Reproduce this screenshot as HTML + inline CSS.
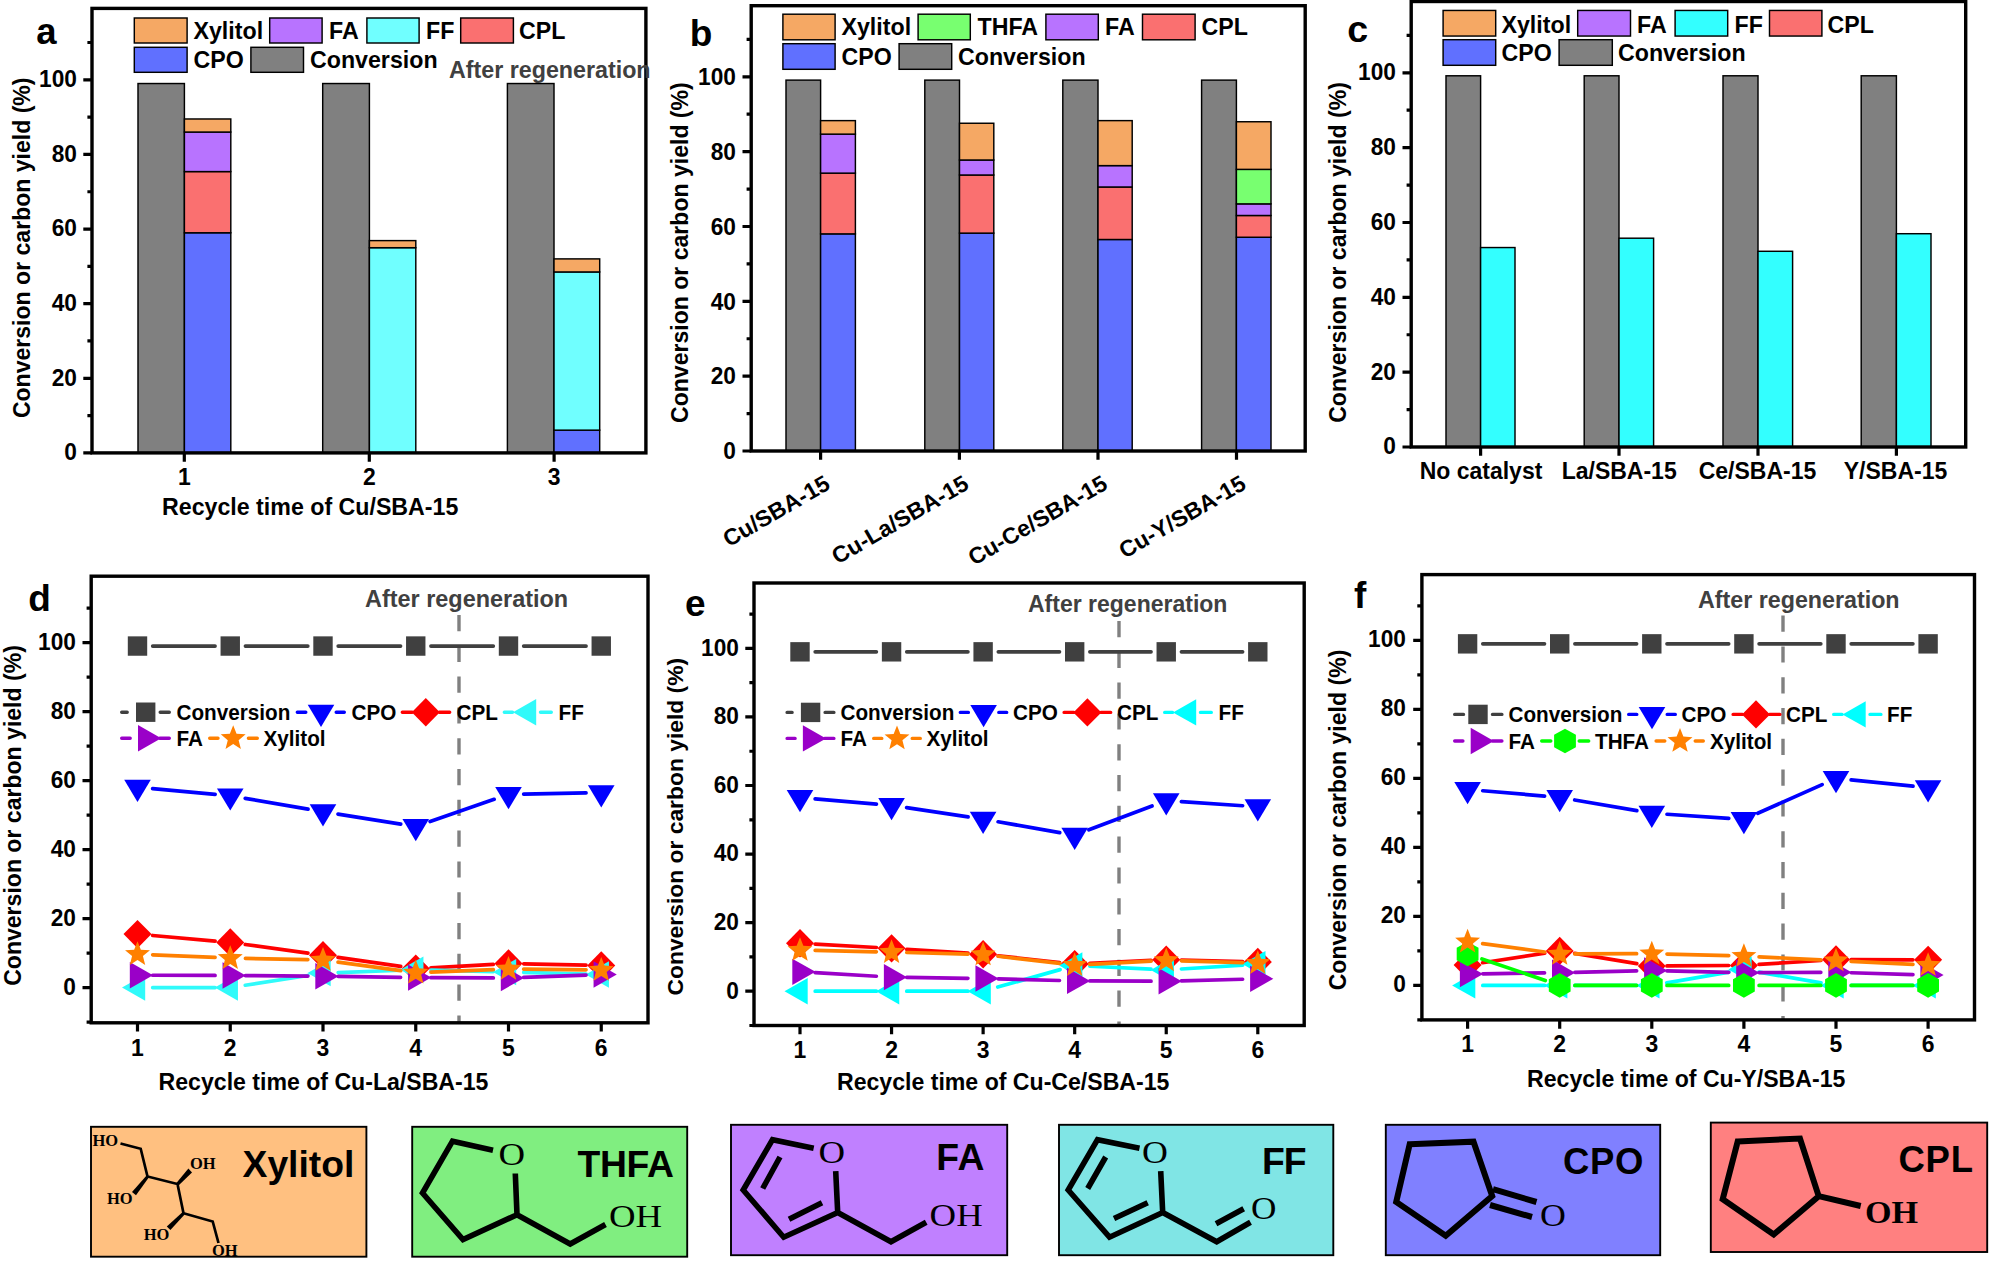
<!DOCTYPE html>
<html lang="en"><head><meta charset="utf-8"><title>Figure</title>
<style>
html,body{margin:0;padding:0;background:#fff;}
body{width:2000px;height:1262px;overflow:hidden;}
svg{display:block;}
svg text{font-family:'Liberation Sans', Arial, Helvetica, sans-serif;font-weight:bold;fill:#000;}
</style></head><body>
<svg width="2000" height="1262" viewBox="0 0 2000 1262">
<rect width="2000" height="1262" fill="#fff"/>
<rect x="138" y="83.53" width="46.4" height="369.37" fill="#808080" stroke="#000" stroke-width="1.45"/>
<rect x="184.4" y="232.77" width="46.4" height="220.13" fill="#6070FF" stroke="#000" stroke-width="1.45"/>
<rect x="184.4" y="171.58" width="46.4" height="61.19" fill="#FA7070" stroke="#000" stroke-width="1.45"/>
<rect x="184.4" y="132.03" width="46.4" height="39.55" fill="#B873FF" stroke="#000" stroke-width="1.45"/>
<rect x="184.4" y="118.98" width="46.4" height="13.06" fill="#F5A864" stroke="#000" stroke-width="1.45"/>
<rect x="322.7" y="83.53" width="46.7" height="369.37" fill="#808080" stroke="#000" stroke-width="1.45"/>
<rect x="369.4" y="247.69" width="46.4" height="205.2" fill="#70FFFF" stroke="#000" stroke-width="1.45"/>
<rect x="369.4" y="240.61" width="46.4" height="7.09" fill="#F5A864" stroke="#000" stroke-width="1.45"/>
<rect x="507.4" y="83.53" width="46.6" height="369.37" fill="#808080" stroke="#000" stroke-width="1.45"/>
<rect x="554" y="430.14" width="45.7" height="22.76" fill="#6070FF" stroke="#000" stroke-width="1.45"/>
<rect x="554" y="271.95" width="45.7" height="158.19" fill="#70FFFF" stroke="#000" stroke-width="1.45"/>
<rect x="554" y="258.89" width="45.7" height="13.06" fill="#F5A864" stroke="#000" stroke-width="1.45"/>
<rect x="134.3" y="18" width="52.8" height="25" fill="#F5A864" stroke="#000" stroke-width="1.45"/>
<text x="193.5" y="39.3" font-size="23.2">Xylitol</text>
<rect x="269.7" y="18" width="52.4" height="25" fill="#B873FF" stroke="#000" stroke-width="1.45"/>
<text x="329" y="39.3" font-size="23.2">FA</text>
<rect x="366.9" y="18" width="52.2" height="25" fill="#70FFFF" stroke="#000" stroke-width="1.45"/>
<text x="426" y="39.3" font-size="23.2">FF</text>
<rect x="460.7" y="18" width="52.7" height="25" fill="#FA7070" stroke="#000" stroke-width="1.45"/>
<text x="519" y="39.3" font-size="23.2">CPL</text>
<rect x="134.3" y="47.3" width="52.8" height="25" fill="#6070FF" stroke="#000" stroke-width="1.45"/>
<text x="193.5" y="68.2" font-size="23.2">CPO</text>
<rect x="250.9" y="47.3" width="52.6" height="25" fill="#808080" stroke="#000" stroke-width="1.45"/>
<text x="310" y="68.2" font-size="23.2">Conversion</text>
<rect x="92" y="8.4" width="553.9" height="444.5" fill="none" stroke="#000" stroke-width="3.4"/>
<text transform="translate(77 460.3) scale(1.01 1.1)" font-size="22.5" text-anchor="end">0</text>
<text transform="translate(77 385.68) scale(1.01 1.1)" font-size="22.5" text-anchor="end">20</text>
<text transform="translate(77 311.06) scale(1.01 1.1)" font-size="22.5" text-anchor="end">40</text>
<text transform="translate(77 236.44) scale(1.01 1.1)" font-size="22.5" text-anchor="end">60</text>
<text transform="translate(77 161.82) scale(1.01 1.1)" font-size="22.5" text-anchor="end">80</text>
<text transform="translate(77 87.2) scale(1.01 1.1)" font-size="22.5" text-anchor="end">100</text>
<path d="M83.3 452.9H92M83.3 378.28H92M83.3 303.66H92M83.3 229.04H92M83.3 154.42H92M83.3 79.8H92M87.4 415.59H92M87.4 340.97H92M87.4 266.35H92M87.4 191.73H92M87.4 117.11H92M87.4 42.49H92" stroke="#000" stroke-width="3.2" fill="none"/>
<path d="M184.3 452.9V461.7M369.3 452.9V461.7M554.1 452.9V461.7" stroke="#000" stroke-width="3.2" fill="none"/>
<text x="30.2" y="247.8" font-size="23.05" text-anchor="middle" transform="rotate(-90 30.2 247.8)">Conversion or carbon yield (%)</text>
<text x="36.2" y="44.4" font-size="36.5">a</text>
<text transform="translate(184.3 485.3) scale(1.02 1.1)" font-size="22.5" text-anchor="middle">1</text>
<text transform="translate(369.3 485.3) scale(1.02 1.1)" font-size="22.5" text-anchor="middle">2</text>
<text transform="translate(554.1 485.3) scale(1.02 1.1)" font-size="22.5" text-anchor="middle">3</text>
<text x="310.2" y="514.5" font-size="23.2" text-anchor="middle">Recycle time of Cu/SBA-15</text>
<text x="449" y="78" font-size="23.25" style="fill:#404040;">After regeneration</text>
<rect x="786" y="80.12" width="34.6" height="370.88" fill="#808080" stroke="#000" stroke-width="1.45"/>
<rect x="820.6" y="233.87" width="34.8" height="217.13" fill="#6070FF" stroke="#000" stroke-width="1.45"/>
<rect x="820.6" y="173.12" width="34.8" height="60.75" fill="#FA7070" stroke="#000" stroke-width="1.45"/>
<rect x="820.6" y="134.12" width="34.8" height="39" fill="#B873FF" stroke="#000" stroke-width="1.45"/>
<rect x="820.6" y="120.62" width="34.8" height="13.5" fill="#F5A864" stroke="#000" stroke-width="1.45"/>
<rect x="924.8" y="80.12" width="34.7" height="370.88" fill="#808080" stroke="#000" stroke-width="1.45"/>
<rect x="959.5" y="233.12" width="34.3" height="217.88" fill="#6070FF" stroke="#000" stroke-width="1.45"/>
<rect x="959.5" y="175" width="34.3" height="58.12" fill="#FA7070" stroke="#000" stroke-width="1.45"/>
<rect x="959.5" y="160" width="34.3" height="15" fill="#B873FF" stroke="#000" stroke-width="1.45"/>
<rect x="959.5" y="123.25" width="34.3" height="36.75" fill="#F5A864" stroke="#000" stroke-width="1.45"/>
<rect x="1062.8" y="80.12" width="35.2" height="370.88" fill="#808080" stroke="#000" stroke-width="1.45"/>
<rect x="1098" y="239.5" width="34.2" height="211.5" fill="#6070FF" stroke="#000" stroke-width="1.45"/>
<rect x="1098" y="187" width="34.2" height="52.5" fill="#FA7070" stroke="#000" stroke-width="1.45"/>
<rect x="1098" y="165.62" width="34.2" height="21.37" fill="#B873FF" stroke="#000" stroke-width="1.45"/>
<rect x="1098" y="120.62" width="34.2" height="45" fill="#F5A864" stroke="#000" stroke-width="1.45"/>
<rect x="1201.6" y="80.12" width="34.8" height="370.88" fill="#808080" stroke="#000" stroke-width="1.45"/>
<rect x="1236.4" y="237.25" width="34.6" height="213.75" fill="#6070FF" stroke="#000" stroke-width="1.45"/>
<rect x="1236.4" y="215.5" width="34.6" height="21.75" fill="#FA7070" stroke="#000" stroke-width="1.45"/>
<rect x="1236.4" y="203.87" width="34.6" height="11.62" fill="#B873FF" stroke="#000" stroke-width="1.45"/>
<rect x="1236.4" y="169.37" width="34.6" height="34.5" fill="#78FF70" stroke="#000" stroke-width="1.45"/>
<rect x="1236.4" y="121.75" width="34.6" height="47.62" fill="#F5A864" stroke="#000" stroke-width="1.45"/>
<rect x="782.9" y="14.2" width="52.2" height="25.6" fill="#F5A864" stroke="#000" stroke-width="1.45"/>
<text x="841.5" y="35.2" font-size="23.2">Xylitol</text>
<rect x="918.1" y="14.2" width="52.2" height="25.6" fill="#78FF70" stroke="#000" stroke-width="1.45"/>
<text x="977.5" y="35.2" font-size="23.2">THFA</text>
<rect x="1045.9" y="14.2" width="52.4" height="25.6" fill="#B873FF" stroke="#000" stroke-width="1.45"/>
<text x="1105" y="35.2" font-size="23.2">FA</text>
<rect x="1142.5" y="14.2" width="52.6" height="25.6" fill="#FA7070" stroke="#000" stroke-width="1.45"/>
<text x="1201.5" y="35.2" font-size="23.2">CPL</text>
<rect x="782.9" y="43.7" width="52.2" height="25.6" fill="#6070FF" stroke="#000" stroke-width="1.45"/>
<text x="841.5" y="65.2" font-size="23.2">CPO</text>
<rect x="899.1" y="43.7" width="52.6" height="25.6" fill="#808080" stroke="#000" stroke-width="1.45"/>
<text x="958" y="65.2" font-size="23.2">Conversion</text>
<rect x="751.2" y="5.7" width="554" height="445.3" fill="none" stroke="#000" stroke-width="3.4"/>
<text transform="translate(736 459.3) scale(1.01 1.1)" font-size="22.5" text-anchor="end">0</text>
<text transform="translate(736 384.46) scale(1.01 1.1)" font-size="22.5" text-anchor="end">20</text>
<text transform="translate(736 309.62) scale(1.01 1.1)" font-size="22.5" text-anchor="end">40</text>
<text transform="translate(736 234.78) scale(1.01 1.1)" font-size="22.5" text-anchor="end">60</text>
<text transform="translate(736 159.94) scale(1.01 1.1)" font-size="22.5" text-anchor="end">80</text>
<text transform="translate(736 85.1) scale(1.01 1.1)" font-size="22.5" text-anchor="end">100</text>
<path d="M742.5 451H751.2M742.5 376.16H751.2M742.5 301.32H751.2M742.5 226.48H751.2M742.5 151.64H751.2M742.5 76.8H751.2M746.6 413.58H751.2M746.6 338.74H751.2M746.6 263.9H751.2M746.6 189.06H751.2M746.6 114.22H751.2M746.6 39.38H751.2" stroke="#000" stroke-width="3.2" fill="none"/>
<path d="M820.6 451V459.8M959.4 451V459.8M1098 451V459.8M1236.5 451V459.8" stroke="#000" stroke-width="3.2" fill="none"/>
<text x="687.6" y="252.6" font-size="23.05" text-anchor="middle" transform="rotate(-90 687.6 252.6)">Conversion or carbon yield (%)</text>
<text x="689.8" y="46.3" font-size="37">b</text>
<text x="831.6" y="488" font-size="23" text-anchor="end" transform="rotate(-30 831.6 488)">Cu/SBA-15</text>
<text x="970.4" y="488" font-size="23" text-anchor="end" transform="rotate(-30 970.4 488)">Cu-La/SBA-15</text>
<text x="1109" y="488" font-size="23" text-anchor="end" transform="rotate(-30 1109 488)">Cu-Ce/SBA-15</text>
<text x="1247.5" y="488" font-size="23" text-anchor="end" transform="rotate(-30 1247.5 488)">Cu-Y/SBA-15</text>
<rect x="1446" y="75.79" width="34.6" height="371.21" fill="#808080" stroke="#000" stroke-width="1.45"/>
<rect x="1480.6" y="247.55" width="34.4" height="199.45" fill="#33FFFF" stroke="#000" stroke-width="1.45"/>
<rect x="1584.2" y="75.79" width="34.8" height="371.21" fill="#808080" stroke="#000" stroke-width="1.45"/>
<rect x="1619" y="238.2" width="34.6" height="208.8" fill="#33FFFF" stroke="#000" stroke-width="1.45"/>
<rect x="1723" y="75.79" width="35" height="371.21" fill="#808080" stroke="#000" stroke-width="1.45"/>
<rect x="1758" y="251.29" width="34.6" height="195.71" fill="#33FFFF" stroke="#000" stroke-width="1.45"/>
<rect x="1861.2" y="75.79" width="35.2" height="371.21" fill="#808080" stroke="#000" stroke-width="1.45"/>
<rect x="1896.4" y="233.71" width="34.6" height="213.29" fill="#33FFFF" stroke="#000" stroke-width="1.45"/>
<rect x="1443.1" y="10.45" width="52.6" height="25.6" fill="#F5A864" stroke="#000" stroke-width="1.45"/>
<text x="1501.5" y="32.7" font-size="23.2">Xylitol</text>
<rect x="1577.7" y="10.45" width="52.8" height="25.6" fill="#B873FF" stroke="#000" stroke-width="1.45"/>
<text x="1637" y="32.7" font-size="23.2">FA</text>
<rect x="1675.1" y="10.45" width="52.6" height="25.6" fill="#33FFFF" stroke="#000" stroke-width="1.45"/>
<text x="1734.5" y="32.7" font-size="23.2">FF</text>
<rect x="1769.5" y="10.45" width="52.4" height="25.6" fill="#FA7070" stroke="#000" stroke-width="1.45"/>
<text x="1827.5" y="32.7" font-size="23.2">CPL</text>
<rect x="1443.1" y="39.7" width="52.6" height="25.6" fill="#6070FF" stroke="#000" stroke-width="1.45"/>
<text x="1501.5" y="61.1" font-size="23.2">CPO</text>
<rect x="1559.1" y="39.7" width="53.2" height="25.6" fill="#808080" stroke="#000" stroke-width="1.45"/>
<text x="1618" y="61.1" font-size="23.2">Conversion</text>
<rect x="1411.2" y="1.5" width="554.5" height="445.5" fill="none" stroke="#000" stroke-width="3.4"/>
<text transform="translate(1396 454.4) scale(1.01 1.1)" font-size="22.5" text-anchor="end">0</text>
<text transform="translate(1396 379.56) scale(1.01 1.1)" font-size="22.5" text-anchor="end">20</text>
<text transform="translate(1396 304.72) scale(1.01 1.1)" font-size="22.5" text-anchor="end">40</text>
<text transform="translate(1396 229.88) scale(1.01 1.1)" font-size="22.5" text-anchor="end">60</text>
<text transform="translate(1396 155.04) scale(1.01 1.1)" font-size="22.5" text-anchor="end">80</text>
<text transform="translate(1396 80.2) scale(1.01 1.1)" font-size="22.5" text-anchor="end">100</text>
<path d="M1402.5 447H1411.2M1402.5 372.16H1411.2M1402.5 297.32H1411.2M1402.5 222.48H1411.2M1402.5 147.64H1411.2M1402.5 72.8H1411.2M1406.6 409.58H1411.2M1406.6 334.74H1411.2M1406.6 259.9H1411.2M1406.6 185.06H1411.2M1406.6 110.22H1411.2M1406.6 35.38H1411.2" stroke="#000" stroke-width="3.2" fill="none"/>
<path d="M1480.6 447V455.8M1619 447V455.8M1758 447V455.8M1896.4 447V455.8" stroke="#000" stroke-width="3.2" fill="none"/>
<text x="1345.7" y="252.5" font-size="23.05" text-anchor="middle" transform="rotate(-90 1345.7 252.5)">Conversion or carbon yield (%)</text>
<text x="1347.2" y="41.5" font-size="37.6">c</text>
<text x="1481" y="479" font-size="23" text-anchor="middle">No catalyst</text>
<text x="1619.2" y="479" font-size="23" text-anchor="middle">La/SBA-15</text>
<text x="1757.5" y="479" font-size="23" text-anchor="middle">Ce/SBA-15</text>
<text x="1895.5" y="479" font-size="23" text-anchor="middle">Y/SBA-15</text>
<path d="M459 615V1022.8" stroke="#808080" stroke-width="3.4" stroke-dasharray="16.2 14.6" fill="none"/>
<text x="365" y="607" font-size="23.45" style="fill:#404040;">After regeneration</text>
<path d="M152.7 646.05L215.05 646.05M245.45 646.05L307.8 646.05M338.2 646.05L400.55 646.05M430.95 646.05L493.3 646.05M523.7 646.05L586.05 646.05" stroke="#404040" stroke-width="3.7" stroke-linecap="round" fill="none"/>
<polygon points="127.8,636.35 147.2,636.35 147.2,655.75 127.8,655.75" fill="#404040"/>
<polygon points="220.55,636.35 239.95,636.35 239.95,655.75 220.55,655.75" fill="#404040"/>
<polygon points="313.3,636.35 332.7,636.35 332.7,655.75 313.3,655.75" fill="#404040"/>
<polygon points="406.05,636.35 425.45,636.35 425.45,655.75 406.05,655.75" fill="#404040"/>
<polygon points="498.8,636.35 518.2,636.35 518.2,655.75 498.8,655.75" fill="#404040"/>
<polygon points="591.55,636.35 610.95,636.35 610.95,655.75 591.55,655.75" fill="#404040"/>
<path d="M152.63 788.56L215.12 794.37M245.23 798.34L308.02 809.09M338.01 814.05L400.74 824.08M430.11 821.52L494.14 799.37M523.7 794.12L586.05 792.96" stroke="#0000FF" stroke-width="3.7" stroke-linecap="round" fill="none"/>
<polygon points="124.2,779.75 150.8,779.75 137.5,801.95" fill="#0000FF"/>
<polygon points="216.95,788.38 243.55,788.38 230.25,810.58" fill="#0000FF"/>
<polygon points="309.7,804.25 336.3,804.25 323,826.45" fill="#0000FF"/>
<polygon points="402.45,819.09 429.05,819.09 415.75,841.28" fill="#0000FF"/>
<polygon points="495.2,787 521.8,787 508.5,809.2" fill="#0000FF"/>
<polygon points="587.95,785.27 614.55,785.27 601.25,807.47" fill="#0000FF"/>
<path d="M152.64 935.48L215.11 941.05M245.31 944.48L307.94 953.1M338.04 957.35L400.71 966.44M430.93 967.78L493.32 964.3M523.7 963.79L586.05 965.18" stroke="#FF0000" stroke-width="3.7" stroke-linecap="round" fill="none"/>
<polygon points="137.5,919.92 151.5,934.12 137.5,948.33 123.5,934.12" fill="#FF0000"/>
<polygon points="230.25,928.2 244.25,942.4 230.25,956.61 216.25,942.4" fill="#FF0000"/>
<polygon points="323,940.97 337,955.17 323,969.37 309,955.17" fill="#FF0000"/>
<polygon points="415.75,954.42 429.75,968.62 415.75,982.83 401.75,968.62" fill="#FF0000"/>
<polygon points="508.5,949.25 522.5,963.45 508.5,977.65 494.5,963.45" fill="#FF0000"/>
<polygon points="601.25,951.32 615.25,965.52 601.25,979.72 587.25,965.52" fill="#FF0000"/>
<path d="M152.7 987.6L215.05 987.6M245.27 985.25L307.98 975.46M338.19 972.54L400.56 970.23M430.94 970.06L493.31 971.68M523.69 972.47L586.06 974.09" stroke="#30FAFA" stroke-width="3.7" stroke-linecap="round" fill="none"/>
<polygon points="145.2,974.4 145.2,1000.8 122,987.6" fill="#30FAFA"/>
<polygon points="237.95,974.4 237.95,1000.8 214.75,987.6" fill="#30FAFA"/>
<polygon points="330.7,959.91 330.7,986.31 307.5,973.11" fill="#30FAFA"/>
<polygon points="423.45,956.46 423.45,982.86 400.25,969.66" fill="#30FAFA"/>
<polygon points="516.2,958.88 516.2,985.28 493,972.08" fill="#30FAFA"/>
<polygon points="608.95,961.29 608.95,987.69 585.75,974.49" fill="#30FAFA"/>
<path d="M152.7 975.24L215.05 975.47M245.45 975.64L307.8 976.1M338.2 976.44L400.55 977.37M430.95 977.65L493.3 977.88M523.69 977.37L586.06 975.06" stroke="#9A00C8" stroke-width="3.7" stroke-linecap="round" fill="none"/>
<polygon points="129.8,961.98 129.8,988.38 153,975.18" fill="#9A00C8"/>
<polygon points="222.55,962.32 222.55,988.73 245.75,975.52" fill="#9A00C8"/>
<polygon points="315.3,963.01 315.3,989.42 338.5,976.22" fill="#9A00C8"/>
<polygon points="408.05,964.39 408.05,990.8 431.25,977.6" fill="#9A00C8"/>
<polygon points="500.8,964.74 500.8,991.14 524,977.94" fill="#9A00C8"/>
<polygon points="593.55,961.29 593.55,987.69 616.75,974.49" fill="#9A00C8"/>
<path d="M152.69 954.78L215.06 957.45M245.45 958.41L307.8 959.69M338.06 962.07L400.69 970.69M430.94 972.14L493.31 969.59M523.7 969.14L586.05 969.84" stroke="#FF8000" stroke-width="3.7" stroke-linecap="round" fill="none"/>
<polygon points="137.5,941.24 140.85,949.72 149.96,950.29 142.92,956.1 145.2,964.93 137.5,960.03 129.8,964.93 132.08,956.1 125.04,950.29 134.15,949.72" fill="#FF8000"/>
<polygon points="230.25,945.2 233.6,953.69 242.71,954.25 235.67,960.06 237.95,968.9 230.25,964 222.55,968.9 224.83,960.06 217.79,954.25 226.9,953.69" fill="#FF8000"/>
<polygon points="323,947.1 326.35,955.59 335.46,956.15 328.42,961.96 330.7,970.8 323,965.9 315.3,970.8 317.58,961.96 310.54,956.15 319.65,955.59" fill="#FF8000"/>
<polygon points="415.75,959.87 419.1,968.35 428.21,968.92 421.17,974.73 423.45,983.56 415.75,978.66 408.05,983.56 410.33,974.73 403.29,968.92 412.4,968.35" fill="#FF8000"/>
<polygon points="508.5,956.07 511.85,964.56 520.96,965.12 513.92,970.93 516.2,979.77 508.5,974.87 500.8,979.77 503.08,970.93 496.04,965.12 505.15,964.56" fill="#FF8000"/>
<polygon points="601.25,957.11 604.6,965.59 613.71,966.16 606.67,971.97 608.95,980.8 601.25,975.9 593.55,980.8 595.83,971.97 588.79,966.16 597.9,965.59" fill="#FF8000"/>
<path d="M121.7 712.2H127.2M160.2 712.2H169.3" stroke="#404040" stroke-width="3.4" stroke-linecap="round" fill="none"/>
<polygon points="136,702.5 155.4,702.5 155.4,721.9 136,721.9" fill="#404040"/>
<text transform="translate(176.5 719.7) scale(1 1.04)" font-size="20.7">Conversion</text>
<path d="M297.3 712.2H305.8M336.2 712.2H344.3" stroke="#0000FF" stroke-width="3.4" stroke-linecap="round" fill="none"/>
<polygon points="307.7,704.8 334.3,704.8 321,727" fill="#0000FF"/>
<text transform="translate(351.5 719.7) scale(1 1.04)" font-size="20.7">CPO</text>
<path d="M402.3 712.2H412.3M439.3 712.2H449.7" stroke="#FF0000" stroke-width="3.4" stroke-linecap="round" fill="none"/>
<polygon points="425.8,698 439.8,712.2 425.8,726.4 411.8,712.2" fill="#FF0000"/>
<text transform="translate(456.5 719.7) scale(1 1.04)" font-size="20.7">CPL</text>
<path d="M504.3 712.2H512.5M540.5 712.2H551.3" stroke="#30FAFA" stroke-width="3.4" stroke-linecap="round" fill="none"/>
<polygon points="536.2,699 536.2,725.4 513,712.2" fill="#30FAFA"/>
<text transform="translate(558.5 719.7) scale(1 1.04)" font-size="20.7">FF</text>
<path d="M121.7 738.2H130.2M159.7 738.2H169.3" stroke="#9A00C8" stroke-width="3.4" stroke-linecap="round" fill="none"/>
<polygon points="138,725 138,751.4 161.2,738.2" fill="#9A00C8"/>
<text transform="translate(176.5 745.7) scale(1 1.04)" font-size="20.7">FA</text>
<path d="M209.7 738.2H218M248.4 738.2H257.3" stroke="#FF8000" stroke-width="3.4" stroke-linecap="round" fill="none"/>
<polygon points="233.2,725.3 236.55,733.79 245.66,734.35 238.62,740.16 240.9,749 233.2,744.1 225.5,749 227.78,740.16 220.74,734.35 229.85,733.79" fill="#FF8000"/>
<text transform="translate(263.5 745.7) scale(1 1.04)" font-size="20.7">Xylitol</text>
<rect x="91.2" y="576.2" width="556.8" height="446.6" fill="none" stroke="#000" stroke-width="3.4"/>
<text transform="translate(76 994.6) scale(1.01 1.1)" font-size="22.5" text-anchor="end">0</text>
<text transform="translate(76 925.6) scale(1.01 1.1)" font-size="22.5" text-anchor="end">20</text>
<text transform="translate(76 856.6) scale(1.01 1.1)" font-size="22.5" text-anchor="end">40</text>
<text transform="translate(76 787.6) scale(1.01 1.1)" font-size="22.5" text-anchor="end">60</text>
<text transform="translate(76 718.6) scale(1.01 1.1)" font-size="22.5" text-anchor="end">80</text>
<text transform="translate(76 649.6) scale(1.01 1.1)" font-size="22.5" text-anchor="end">100</text>
<path d="M82.5 987.6H91.2M82.5 918.6H91.2M82.5 849.6H91.2M82.5 780.6H91.2M82.5 711.6H91.2M82.5 642.6H91.2M86.6 1022.1H91.2M86.6 953.1H91.2M86.6 884.1H91.2M86.6 815.1H91.2M86.6 746.1H91.2M86.6 677.1H91.2M86.6 608.1H91.2" stroke="#000" stroke-width="3.2" fill="none"/>
<path d="M137.5 1022.8V1031.6M230.25 1022.8V1031.6M323 1022.8V1031.6M415.75 1022.8V1031.6M508.5 1022.8V1031.6M601.25 1022.8V1031.6" stroke="#000" stroke-width="3.2" fill="none"/>
<text transform="translate(137.5 1055.6) scale(1.02 1.1)" font-size="22.5" text-anchor="middle">1</text>
<text transform="translate(230.25 1055.6) scale(1.02 1.1)" font-size="22.5" text-anchor="middle">2</text>
<text transform="translate(323 1055.6) scale(1.02 1.1)" font-size="22.5" text-anchor="middle">3</text>
<text transform="translate(415.75 1055.6) scale(1.02 1.1)" font-size="22.5" text-anchor="middle">4</text>
<text transform="translate(508.5 1055.6) scale(1.02 1.1)" font-size="22.5" text-anchor="middle">5</text>
<text transform="translate(601.25 1055.6) scale(1.02 1.1)" font-size="22.5" text-anchor="middle">6</text>
<text x="323.5" y="1089.8" font-size="23.1" text-anchor="middle">Recycle time of Cu-La/SBA-15</text>
<text x="20.5" y="815.5" font-size="23.05" text-anchor="middle" transform="rotate(-90 20.5 815.5)">Conversion or carbon yield (%)</text>
<text x="28.3" y="611.3" font-size="37">d</text>
<path d="M1119 621V1025.5" stroke="#808080" stroke-width="3.4" stroke-dasharray="16.2 14.6" fill="none"/>
<text x="1028" y="612" font-size="23" style="fill:#404040;">After regeneration</text>
<path d="M815.2 651.83L876.36 651.83M906.76 651.83L967.92 651.83M998.32 651.83L1059.48 651.83M1089.88 651.83L1151.04 651.83M1181.44 651.83L1242.6 651.83" stroke="#404040" stroke-width="3.7" stroke-linecap="round" fill="none"/>
<polygon points="790.3,642.13 809.7,642.13 809.7,661.53 790.3,661.53" fill="#404040"/>
<polygon points="881.86,642.13 901.26,642.13 901.26,661.53 881.86,661.53" fill="#404040"/>
<polygon points="973.42,642.13 992.82,642.13 992.82,661.53 973.42,661.53" fill="#404040"/>
<polygon points="1064.98,642.13 1084.38,642.13 1084.38,661.53 1064.98,661.53" fill="#404040"/>
<polygon points="1156.54,642.13 1175.94,642.13 1175.94,661.53 1156.54,661.53" fill="#404040"/>
<polygon points="1248.1,642.13 1267.5,642.13 1267.5,661.53 1248.1,661.53" fill="#404040"/>
<path d="M815.14 798.82L876.42 804.1M906.59 807.65L968.09 816.86M998.09 821.75L1059.71 832.59M1088.9 829.85L1152.02 805.98M1181.41 801.63L1242.63 805.75" stroke="#0000FF" stroke-width="3.7" stroke-linecap="round" fill="none"/>
<polygon points="786.7,790.12 813.3,790.12 800,812.32" fill="#0000FF"/>
<polygon points="878.26,798 904.86,798 891.56,820.2" fill="#0000FF"/>
<polygon points="969.82,811.71 996.42,811.71 983.12,833.91" fill="#0000FF"/>
<polygon points="1061.38,827.83 1087.98,827.83 1074.68,850.03" fill="#0000FF"/>
<polygon points="1152.94,793.2 1179.54,793.2 1166.24,815.4" fill="#0000FF"/>
<polygon points="1244.5,799.37 1271.1,799.37 1257.8,821.57" fill="#0000FF"/>
<path d="M815.18 944.06L876.38 947.5M906.73 949.32L967.95 953.21M998.23 955.82L1059.57 962.48M1089.86 963.38L1151.06 960.4M1181.43 960.06L1242.61 961.66" stroke="#FF0000" stroke-width="3.7" stroke-linecap="round" fill="none"/>
<polygon points="800,929.01 814,943.21 800,957.41 786,943.21" fill="#FF0000"/>
<polygon points="891.56,934.15 905.56,948.35 891.56,962.55 877.56,948.35" fill="#FF0000"/>
<polygon points="983.12,939.98 997.12,954.18 983.12,968.38 969.12,954.18" fill="#FF0000"/>
<polygon points="1074.68,949.92 1088.68,964.12 1074.68,978.32 1060.68,964.12" fill="#FF0000"/>
<polygon points="1166.24,945.46 1180.24,959.66 1166.24,973.86 1152.24,959.66" fill="#FF0000"/>
<polygon points="1257.8,947.86 1271.8,962.06 1257.8,976.26 1243.8,962.06" fill="#FF0000"/>
<path d="M815.2 991.2L876.36 991.2M906.76 991.2L967.92 991.2M997.75 987.09L1060.05 969.6M1089.86 966.23L1151.06 969.21M1181.41 968.98L1242.63 965.08" stroke="#00FFFF" stroke-width="3.7" stroke-linecap="round" fill="none"/>
<polygon points="807.7,978 807.7,1004.4 784.5,991.2" fill="#00FFFF"/>
<polygon points="899.26,978 899.26,1004.4 876.06,991.2" fill="#00FFFF"/>
<polygon points="990.82,978 990.82,1004.4 967.62,991.2" fill="#00FFFF"/>
<polygon points="1082.38,952.29 1082.38,978.69 1059.18,965.49" fill="#00FFFF"/>
<polygon points="1173.94,956.75 1173.94,983.15 1150.74,969.95" fill="#00FFFF"/>
<polygon points="1265.5,950.92 1265.5,977.32 1242.3,964.12" fill="#00FFFF"/>
<path d="M815.17 972.71L876.39 976.26M906.76 977.37L967.92 978.29M998.31 978.91L1059.49 980.52M1089.88 980.97L1151.04 981.2M1181.43 980.86L1242.61 979.26" stroke="#9A00C8" stroke-width="3.7" stroke-linecap="round" fill="none"/>
<polygon points="792.3,958.63 792.3,985.03 815.5,971.83" fill="#9A00C8"/>
<polygon points="883.86,963.95 883.86,990.35 907.06,977.15" fill="#9A00C8"/>
<polygon points="975.42,965.32 975.42,991.72 998.62,978.52" fill="#9A00C8"/>
<polygon points="1066.98,967.72 1066.98,994.12 1090.18,980.92" fill="#9A00C8"/>
<polygon points="1158.54,968.06 1158.54,994.46 1181.74,981.26" fill="#9A00C8"/>
<polygon points="1250.1,965.66 1250.1,992.06 1273.3,978.86" fill="#9A00C8"/>
<path d="M815.2 950.41L876.36 951.78M906.75 952.52L967.93 954.12M998.22 956.27L1059.58 963.39M1089.86 964.35L1151.06 961.14M1181.43 960.8L1242.61 962.64" stroke="#FF8000" stroke-width="3.7" stroke-linecap="round" fill="none"/>
<polygon points="800,937.16 803.35,945.65 812.46,946.22 805.42,952.03 807.7,960.86 800,955.96 792.3,960.86 794.58,952.03 787.54,946.22 796.65,945.65" fill="#FF8000"/>
<polygon points="891.56,939.22 894.91,947.71 904.02,948.27 896.98,954.08 899.26,962.92 891.56,958.02 883.86,962.92 886.14,954.08 879.1,948.27 888.21,947.71" fill="#FF8000"/>
<polygon points="983.12,941.62 986.47,950.11 995.58,950.67 988.54,956.48 990.82,965.32 983.12,960.42 975.42,965.32 977.7,956.48 970.66,950.67 979.77,950.11" fill="#FF8000"/>
<polygon points="1074.68,952.25 1078.03,960.74 1087.14,961.3 1080.1,967.11 1082.38,975.95 1074.68,971.05 1066.98,975.95 1069.26,967.11 1062.22,961.3 1071.33,960.74" fill="#FF8000"/>
<polygon points="1166.24,947.45 1169.59,955.94 1178.7,956.5 1171.66,962.31 1173.94,971.15 1166.24,966.25 1158.54,971.15 1160.82,962.31 1153.78,956.5 1162.89,955.94" fill="#FF8000"/>
<polygon points="1257.8,950.19 1261.15,958.68 1270.26,959.24 1263.22,965.05 1265.5,973.89 1257.8,968.99 1250.1,973.89 1252.38,965.05 1245.34,959.24 1254.45,958.68" fill="#FF8000"/>
<path d="M787.1 712.4H792.1M825.1 712.4H833.9" stroke="#404040" stroke-width="3.4" stroke-linecap="round" fill="none"/>
<polygon points="800.9,702.7 820.3,702.7 820.3,722.1 800.9,722.1" fill="#404040"/>
<text transform="translate(840.5 719.9) scale(1 1.04)" font-size="20.7">Conversion</text>
<path d="M960.3 712.4H968.4M998.8 712.4H1006.7" stroke="#0000FF" stroke-width="3.4" stroke-linecap="round" fill="none"/>
<polygon points="970.3,705 996.9,705 983.6,727.2" fill="#0000FF"/>
<text transform="translate(1013 719.9) scale(1 1.04)" font-size="20.7">CPO</text>
<path d="M1064.1 712.4H1073.9M1100.9 712.4H1110.7" stroke="#FF0000" stroke-width="3.4" stroke-linecap="round" fill="none"/>
<polygon points="1087.4,698.2 1101.4,712.4 1087.4,726.6 1073.4,712.4" fill="#FF0000"/>
<text transform="translate(1117 719.9) scale(1 1.04)" font-size="20.7">CPL</text>
<path d="M1164.7 712.4H1172.5M1200.5 712.4H1211.3" stroke="#00FFFF" stroke-width="3.4" stroke-linecap="round" fill="none"/>
<polygon points="1196.2,699.2 1196.2,725.6 1173,712.4" fill="#00FFFF"/>
<text transform="translate(1218.5 719.9) scale(1 1.04)" font-size="20.7">FF</text>
<path d="M787.1 738.4H795.1M824.6 738.4H833.9" stroke="#9A00C8" stroke-width="3.4" stroke-linecap="round" fill="none"/>
<polygon points="802.9,725.2 802.9,751.6 826.1,738.4" fill="#9A00C8"/>
<text transform="translate(840.5 745.9) scale(1 1.04)" font-size="20.7">FA</text>
<path d="M873.7 738.4H881.8M912.2 738.4H920.3" stroke="#FF8000" stroke-width="3.4" stroke-linecap="round" fill="none"/>
<polygon points="897,725.5 900.35,733.99 909.46,734.55 902.42,740.36 904.7,749.2 897,744.3 889.3,749.2 891.58,740.36 884.54,734.55 893.65,733.99" fill="#FF8000"/>
<text transform="translate(926.5 745.9) scale(1 1.04)" font-size="20.7">Xylitol</text>
<rect x="754" y="583" width="550.2" height="442.5" fill="none" stroke="#000" stroke-width="3.4"/>
<text transform="translate(739 998.6) scale(1.01 1.1)" font-size="22.5" text-anchor="end">0</text>
<text transform="translate(739 930.04) scale(1.01 1.1)" font-size="22.5" text-anchor="end">20</text>
<text transform="translate(739 861.48) scale(1.01 1.1)" font-size="22.5" text-anchor="end">40</text>
<text transform="translate(739 792.92) scale(1.01 1.1)" font-size="22.5" text-anchor="end">60</text>
<text transform="translate(739 724.36) scale(1.01 1.1)" font-size="22.5" text-anchor="end">80</text>
<text transform="translate(739 655.8) scale(1.01 1.1)" font-size="22.5" text-anchor="end">100</text>
<path d="M745.3 991.2H754M745.3 922.64H754M745.3 854.08H754M745.3 785.52H754M745.3 716.96H754M745.3 648.4H754M749.4 1025.48H754M749.4 956.92H754M749.4 888.36H754M749.4 819.8H754M749.4 751.24H754M749.4 682.68H754M749.4 614.12H754" stroke="#000" stroke-width="3.2" fill="none"/>
<path d="M800 1025.5V1034.3M891.56 1025.5V1034.3M983.12 1025.5V1034.3M1074.68 1025.5V1034.3M1166.24 1025.5V1034.3M1257.8 1025.5V1034.3" stroke="#000" stroke-width="3.2" fill="none"/>
<text transform="translate(800 1058) scale(1.02 1.1)" font-size="22.5" text-anchor="middle">1</text>
<text transform="translate(891.56 1058) scale(1.02 1.1)" font-size="22.5" text-anchor="middle">2</text>
<text transform="translate(983.12 1058) scale(1.02 1.1)" font-size="22.5" text-anchor="middle">3</text>
<text transform="translate(1074.68 1058) scale(1.02 1.1)" font-size="22.5" text-anchor="middle">4</text>
<text transform="translate(1166.24 1058) scale(1.02 1.1)" font-size="22.5" text-anchor="middle">5</text>
<text transform="translate(1257.8 1058) scale(1.02 1.1)" font-size="22.5" text-anchor="middle">6</text>
<text x="1003.2" y="1089.8" font-size="23.1" text-anchor="middle">Recycle time of Cu-Ce/SBA-15</text>
<text x="683" y="826.7" font-size="22.85" text-anchor="middle" transform="rotate(-90 683 826.7)">Conversion or carbon yield (%)</text>
<text x="685" y="616" font-size="37">e</text>
<path d="M1783 615.6V1019.9" stroke="#808080" stroke-width="3.4" stroke-dasharray="16.2 14.6" fill="none"/>
<text x="1698" y="608" font-size="23.25" style="fill:#404040;">After regeneration</text>
<path d="M1482.8 643.85L1544.5 643.85M1574.9 643.85L1636.6 643.85M1667 643.85L1728.7 643.85M1759.1 643.85L1820.8 643.85M1851.2 643.85L1912.9 643.85" stroke="#404040" stroke-width="3.7" stroke-linecap="round" fill="none"/>
<polygon points="1457.9,634.15 1477.3,634.15 1477.3,653.55 1457.9,653.55" fill="#404040"/>
<polygon points="1550,634.15 1569.4,634.15 1569.4,653.55 1550,653.55" fill="#404040"/>
<polygon points="1642.1,634.15 1661.5,634.15 1661.5,653.55 1642.1,653.55" fill="#404040"/>
<polygon points="1734.2,634.15 1753.6,634.15 1753.6,653.55 1734.2,653.55" fill="#404040"/>
<polygon points="1826.3,634.15 1845.7,634.15 1845.7,653.55 1826.3,653.55" fill="#404040"/>
<polygon points="1918.4,634.15 1937.8,634.15 1937.8,653.55 1918.4,653.55" fill="#404040"/>
<path d="M1482.74 790.74L1544.56 796.07M1574.68 799.96L1636.82 810.66M1666.97 814.27L1728.73 818.43M1757.78 813.27L1822.12 784.59M1851.12 779.93L1912.98 786.19" stroke="#0000FF" stroke-width="3.7" stroke-linecap="round" fill="none"/>
<polygon points="1454.3,782.04 1480.9,782.04 1467.6,804.24" fill="#0000FF"/>
<polygon points="1546.4,789.98 1573,789.98 1559.7,812.17" fill="#0000FF"/>
<polygon points="1638.5,805.85 1665.1,805.85 1651.8,828.04" fill="#0000FF"/>
<polygon points="1730.6,812.05 1757.2,812.05 1743.9,834.25" fill="#0000FF"/>
<polygon points="1822.7,771 1849.3,771 1836,793.2" fill="#0000FF"/>
<polygon points="1914.8,780.31 1941.4,780.31 1928.1,802.51" fill="#0000FF"/>
<path d="M1482.62 962.74L1544.68 953.21M1574.7 953.37L1636.8 963.61M1667 965.97L1728.7 965.5M1759.07 964.42L1820.83 960.49M1851.2 959.58L1912.9 959.81" stroke="#FF0000" stroke-width="3.7" stroke-linecap="round" fill="none"/>
<polygon points="1467.6,950.84 1481.6,965.04 1467.6,979.25 1453.6,965.04" fill="#FF0000"/>
<polygon points="1559.7,936.7 1573.7,950.9 1559.7,965.1 1545.7,950.9" fill="#FF0000"/>
<polygon points="1651.8,951.88 1665.8,966.08 1651.8,980.28 1637.8,966.08" fill="#FF0000"/>
<polygon points="1743.9,951.19 1757.9,965.39 1743.9,979.59 1729.9,965.39" fill="#FF0000"/>
<polygon points="1836,945.32 1850,959.52 1836,973.73 1822,959.52" fill="#FF0000"/>
<polygon points="1928.1,945.67 1942.1,959.87 1928.1,974.07 1914.1,959.87" fill="#FF0000"/>
<path d="M1482.8 985.4L1544.5 985.4M1574.9 985.4L1636.6 985.4M1666.78 982.82L1728.92 972.11M1758.88 972.11L1821.02 982.82M1851.2 985.4L1912.9 985.4" stroke="#00FFFF" stroke-width="3.7" stroke-linecap="round" fill="none"/>
<polygon points="1475.3,972.2 1475.3,998.6 1452.1,985.4" fill="#00FFFF"/>
<polygon points="1567.4,972.2 1567.4,998.6 1544.2,985.4" fill="#00FFFF"/>
<polygon points="1659.5,972.2 1659.5,998.6 1636.3,985.4" fill="#00FFFF"/>
<polygon points="1751.6,956.33 1751.6,982.73 1728.4,969.53" fill="#00FFFF"/>
<polygon points="1843.7,972.2 1843.7,998.6 1820.5,985.4" fill="#00FFFF"/>
<polygon points="1935.8,972.2 1935.8,998.6 1912.6,985.4" fill="#00FFFF"/>
<path d="M1482.8 973.79L1544.5 972.86M1574.9 972.29L1636.6 970.91M1667 970.91L1728.7 972.29M1759.1 972.58L1820.8 972.35M1851.19 972.75L1912.91 974.59" stroke="#9A00C8" stroke-width="3.7" stroke-linecap="round" fill="none"/>
<polygon points="1459.9,960.81 1459.9,987.22 1483.1,974.01" fill="#9A00C8"/>
<polygon points="1552,959.43 1552,985.84 1575.2,972.63" fill="#9A00C8"/>
<polygon points="1644.1,957.36 1644.1,983.76 1667.3,970.56" fill="#9A00C8"/>
<polygon points="1736.2,959.43 1736.2,985.84 1759.4,972.63" fill="#9A00C8"/>
<polygon points="1828.3,959.09 1828.3,985.49 1851.5,972.29" fill="#9A00C8"/>
<polygon points="1920.4,961.85 1920.4,988.25 1943.6,975.05" fill="#9A00C8"/>
<path d="M1481.99 958.91L1545.31 980.5M1574.9 985.4L1636.6 985.4M1667 985.4L1728.7 985.4M1759.1 985.4L1820.8 985.4M1851.2 985.4L1912.9 985.4" stroke="#00FF00" stroke-width="3.7" stroke-linecap="round" fill="none"/>
<polygon points="1467.6,941.71 1478.5,947.8 1478.5,960.21 1467.6,966.3 1456.7,960.21 1456.7,947.8" fill="#00FF00"/>
<polygon points="1559.7,973.1 1570.6,979.2 1570.6,991.6 1559.7,997.7 1548.8,991.6 1548.8,979.2" fill="#00FF00"/>
<polygon points="1651.8,973.1 1662.7,979.2 1662.7,991.6 1651.8,997.7 1640.9,991.6 1640.9,979.2" fill="#00FF00"/>
<polygon points="1743.9,973.1 1754.8,979.2 1754.8,991.6 1743.9,997.7 1733,991.6 1733,979.2" fill="#00FF00"/>
<polygon points="1836,973.1 1846.9,979.2 1846.9,991.6 1836,997.7 1825.1,991.6 1825.1,979.2" fill="#00FF00"/>
<polygon points="1928.1,973.1 1939,979.2 1939,991.6 1928.1,997.7 1917.2,991.6 1917.2,979.2" fill="#00FF00"/>
<path d="M1482.66 943.62L1544.64 951.97M1574.9 953.95L1636.6 953.72M1666.99 954.06L1728.71 955.68M1759.08 956.81L1820.82 959.82M1851.18 961.3L1912.92 964.31" stroke="#FF8000" stroke-width="3.7" stroke-linecap="round" fill="none"/>
<polygon points="1467.6,928.69 1470.95,937.17 1480.06,937.74 1473.02,943.55 1475.3,952.38 1467.6,947.49 1459.9,952.38 1462.18,943.55 1455.14,937.74 1464.25,937.17" fill="#FF8000"/>
<polygon points="1559.7,941.11 1563.05,949.59 1572.16,950.16 1565.12,955.97 1567.4,964.8 1559.7,959.9 1552,964.8 1554.28,955.97 1547.24,950.16 1556.35,949.59" fill="#FF8000"/>
<polygon points="1651.8,940.76 1655.15,949.25 1664.26,949.81 1657.22,955.62 1659.5,964.46 1651.8,959.56 1644.1,964.46 1646.38,955.62 1639.34,949.81 1648.45,949.25" fill="#FF8000"/>
<polygon points="1743.9,943.17 1747.25,951.66 1756.36,952.23 1749.32,958.04 1751.6,966.87 1743.9,961.97 1736.2,966.87 1738.48,958.04 1731.44,952.23 1740.55,951.66" fill="#FF8000"/>
<polygon points="1836,947.66 1839.35,956.15 1848.46,956.71 1841.42,962.52 1843.7,971.36 1836,966.46 1828.3,971.36 1830.58,962.52 1823.54,956.71 1832.65,956.15" fill="#FF8000"/>
<polygon points="1928.1,952.14 1931.45,960.63 1940.56,961.2 1933.52,967.01 1935.8,975.84 1928.1,970.94 1920.4,975.84 1922.68,967.01 1915.64,961.2 1924.75,960.63" fill="#FF8000"/>
<path d="M1454.7 714.4H1463.5M1492.5 714.4H1501.9" stroke="#404040" stroke-width="3.4" stroke-linecap="round" fill="none"/>
<polygon points="1468.3,704.7 1487.7,704.7 1487.7,724.1 1468.3,724.1" fill="#404040"/>
<text transform="translate(1508.5 721.9) scale(1 1.04)" font-size="20.7">Conversion</text>
<path d="M1628.7 714.4H1636.8M1667.2 714.4H1675.3" stroke="#0000FF" stroke-width="3.4" stroke-linecap="round" fill="none"/>
<polygon points="1638.7,707 1665.3,707 1652,729.2" fill="#0000FF"/>
<text transform="translate(1681.5 721.9) scale(1 1.04)" font-size="20.7">CPO</text>
<path d="M1733.1 714.4H1742.5M1769.5 714.4H1779.9" stroke="#FF0000" stroke-width="3.4" stroke-linecap="round" fill="none"/>
<polygon points="1756,700.2 1770,714.4 1756,728.6 1742,714.4" fill="#FF0000"/>
<text transform="translate(1786 721.9) scale(1 1.04)" font-size="20.7">CPL</text>
<path d="M1833.7 714.4H1842M1870 714.4H1880.9" stroke="#00FFFF" stroke-width="3.4" stroke-linecap="round" fill="none"/>
<polygon points="1865.7,701.2 1865.7,727.6 1842.5,714.4" fill="#00FFFF"/>
<text transform="translate(1887 721.9) scale(1 1.04)" font-size="20.7">FF</text>
<path d="M1454.7 741H1462.9M1492.4 741H1501.9" stroke="#9A00C8" stroke-width="3.4" stroke-linecap="round" fill="none"/>
<polygon points="1470.7,727.8 1470.7,754.2 1493.9,741" fill="#9A00C8"/>
<text transform="translate(1508.5 748.5) scale(1 1.04)" font-size="20.7">FA</text>
<path d="M1541.7 741H1550.8M1579.2 741H1588.7" stroke="#00FF00" stroke-width="3.4" stroke-linecap="round" fill="none"/>
<polygon points="1565,728.7 1575.9,734.8 1575.9,747.2 1565,753.3 1554.1,747.2 1554.1,734.8" fill="#00FF00"/>
<text transform="translate(1595 748.5) scale(1 1.04)" font-size="20.7">THFA</text>
<path d="M1656.1 741H1664.8M1695.2 741H1703.3" stroke="#FF8000" stroke-width="3.4" stroke-linecap="round" fill="none"/>
<polygon points="1680,728.1 1683.35,736.59 1692.46,737.15 1685.42,742.96 1687.7,751.8 1680,746.9 1672.3,751.8 1674.58,742.96 1667.54,737.15 1676.65,736.59" fill="#FF8000"/>
<text transform="translate(1710 748.5) scale(1 1.04)" font-size="20.7">Xylitol</text>
<rect x="1421.9" y="574.6" width="552.6" height="445.3" fill="none" stroke="#000" stroke-width="3.4"/>
<text transform="translate(1406 992.3) scale(1.01 1.1)" font-size="22.5" text-anchor="end">0</text>
<text transform="translate(1406 923.3) scale(1.01 1.1)" font-size="22.5" text-anchor="end">20</text>
<text transform="translate(1406 854.3) scale(1.01 1.1)" font-size="22.5" text-anchor="end">40</text>
<text transform="translate(1406 785.3) scale(1.01 1.1)" font-size="22.5" text-anchor="end">60</text>
<text transform="translate(1406 716.3) scale(1.01 1.1)" font-size="22.5" text-anchor="end">80</text>
<text transform="translate(1406 647.3) scale(1.01 1.1)" font-size="22.5" text-anchor="end">100</text>
<path d="M1413.2 985.4H1421.9M1413.2 916.4H1421.9M1413.2 847.4H1421.9M1413.2 778.4H1421.9M1413.2 709.4H1421.9M1413.2 640.4H1421.9M1417.3 1019.9H1421.9M1417.3 950.9H1421.9M1417.3 881.9H1421.9M1417.3 812.9H1421.9M1417.3 743.9H1421.9M1417.3 674.9H1421.9M1417.3 605.9H1421.9" stroke="#000" stroke-width="3.2" fill="none"/>
<path d="M1467.6 1019.9V1028.7M1559.7 1019.9V1028.7M1651.8 1019.9V1028.7M1743.9 1019.9V1028.7M1836 1019.9V1028.7M1928.1 1019.9V1028.7" stroke="#000" stroke-width="3.2" fill="none"/>
<text transform="translate(1467.6 1052.4) scale(1.02 1.1)" font-size="22.5" text-anchor="middle">1</text>
<text transform="translate(1559.7 1052.4) scale(1.02 1.1)" font-size="22.5" text-anchor="middle">2</text>
<text transform="translate(1651.8 1052.4) scale(1.02 1.1)" font-size="22.5" text-anchor="middle">3</text>
<text transform="translate(1743.9 1052.4) scale(1.02 1.1)" font-size="22.5" text-anchor="middle">4</text>
<text transform="translate(1836 1052.4) scale(1.02 1.1)" font-size="22.5" text-anchor="middle">5</text>
<text transform="translate(1928.1 1052.4) scale(1.02 1.1)" font-size="22.5" text-anchor="middle">6</text>
<text x="1686.2" y="1086.8" font-size="23.1" text-anchor="middle">Recycle time of Cu-Y/SBA-15</text>
<text x="1346" y="820" font-size="23.05" text-anchor="middle" transform="rotate(-90 1346 820)">Conversion or carbon yield (%)</text>
<text x="1354" y="608" font-size="37">f</text>
<rect x="91" y="1126.8" width="275.4" height="129.9" fill="#FFC080" stroke="#000" stroke-width="1.9"/>
<path d="M120.5 1143.5L140.7 1148.8L147.5 1176.5L177.5 1184L183.5 1213.2L212.7 1221.5L218.5 1243" stroke="#000" stroke-width="2.7" fill="none" stroke-linejoin="miter" stroke-linecap="butt"/>
<polygon points="146.8,1175.2 148.8,1177.6 136,1195.2 132,1192" fill="#000"/>
<polygon points="176.4,1183 178.8,1185.2 192,1172.4 188.4,1168.6" fill="#000"/>
<polygon points="182.4,1212.2 184.6,1214.4 170.4,1230 166.8,1226.6" fill="#000"/>
<text x="92.5" y="1146.3" font-size="16.5" style="font-family:'Liberation Serif','Times New Roman',serif;">HO</text>
<text x="107" y="1204" font-size="16.5" style="font-family:'Liberation Serif','Times New Roman',serif;">HO</text>
<text x="190" y="1169.3" font-size="16.5" style="font-family:'Liberation Serif','Times New Roman',serif;">OH</text>
<text x="143.7" y="1240.2" font-size="16.5" style="font-family:'Liberation Serif','Times New Roman',serif;">HO</text>
<text x="212" y="1256" font-size="16.5" style="font-family:'Liberation Serif','Times New Roman',serif;">OH</text>
<text x="242.5" y="1176.5" font-size="37.3">Xylitol</text>
<rect x="412.2" y="1126.8" width="275" height="129.9" fill="#80EE80" stroke="#000" stroke-width="1.9"/>
<path d="M493 1150.2L452.5 1141.2L422.5 1193L463 1239.5L517 1214.7L515.3 1173.5M517 1214.7L570.2 1244L605.5 1224.5" stroke="#000" stroke-width="5.6" fill="none" stroke-linejoin="miter" stroke-linecap="butt"/>
<text transform="translate(498.6 1165) scale(1.15 1)" font-size="32" style="font-weight:normal;font-family:'Liberation Serif','Times New Roman',serif;">O</text>
<text transform="translate(609 1227.3) scale(1.15 1)" font-size="32" style="font-weight:normal;font-family:'Liberation Serif','Times New Roman',serif;">OH</text>
<text x="577.5" y="1176.5" font-size="37.3" letter-spacing="-0.3">THFA</text>
<rect x="731" y="1124.8" width="276.2" height="130.4" fill="#C080FF" stroke="#000" stroke-width="1.9"/>
<path d="M813.7 1148.3L772.5 1139.7L743.2 1190L783.7 1237.2L837.7 1212.5L835.7 1171.2M837.7 1212.5L891 1241.7L926.2 1222.2M780 1157L762.7 1188.5M822 1202.7L789 1219.2" stroke="#000" stroke-width="5.6" fill="none" stroke-linejoin="miter" stroke-linecap="butt"/>
<text transform="translate(818.6 1162.8) scale(1.15 1)" font-size="32" style="font-weight:normal;font-family:'Liberation Serif','Times New Roman',serif;">O</text>
<text transform="translate(929.6 1225.5) scale(1.15 1)" font-size="32" style="font-weight:normal;font-family:'Liberation Serif','Times New Roman',serif;">OH</text>
<text x="936.2" y="1169.7" font-size="37.3" letter-spacing="0.7">FA</text>
<rect x="1059" y="1124.8" width="274.3" height="130.4" fill="#80E5E5" stroke="#000" stroke-width="1.9"/>
<path d="M1139.5 1148.3L1097.5 1139.7L1068.2 1190L1109.5 1237.2L1162.7 1212.5L1160.7 1171.2M1162.7 1212.5L1216.7 1241.7L1250.5 1222.2M1105.7 1157L1087.7 1188.5M1147.7 1202.7L1114 1218.5M1216 1223.7L1243.7 1208.7" stroke="#000" stroke-width="5.6" fill="none" stroke-linejoin="miter" stroke-linecap="butt"/>
<text transform="translate(1142 1162.8) scale(1.12 1)" font-size="32" style="font-weight:normal;font-family:'Liberation Serif','Times New Roman',serif;">O</text>
<text transform="translate(1251 1219) scale(1.1 1)" font-size="32" style="font-weight:normal;font-family:'Liberation Serif','Times New Roman',serif;">O</text>
<text x="1262" y="1173.5" font-size="37.3" letter-spacing="-1">FF</text>
<rect x="1385.8" y="1124.8" width="274.4" height="130.4" fill="#8080FF" stroke="#000" stroke-width="1.9"/>
<path d="M1409.7 1144.2L1473.5 1141.7L1492.2 1196L1445.7 1235.7L1396.2 1202Z M1493 1189.2L1536.5 1202M1490 1205L1532 1217" stroke="#000" stroke-width="6" fill="none" stroke-linejoin="miter" stroke-linecap="butt"/>
<text transform="translate(1540 1225.8) scale(1.12 1)" font-size="32" style="font-weight:normal;font-family:'Liberation Serif','Times New Roman',serif;">O</text>
<text x="1563" y="1173.5" font-size="36.5" letter-spacing="0.6">CPO</text>
<rect x="1710.8" y="1122.6" width="276.4" height="129.4" fill="#FF8080" stroke="#000" stroke-width="1.9"/>
<path d="M1737.7 1141.5L1800 1138.5L1818.7 1196.2L1773.7 1234.5L1722.7 1199.2Z M1818.7 1196.2L1860.7 1206" stroke="#000" stroke-width="6" fill="none" stroke-linejoin="miter" stroke-linecap="butt"/>
<text transform="translate(1865 1223) scale(1.05 1)" font-size="32.5" style="font-family:'Liberation Serif','Times New Roman',serif;">OH</text>
<text x="1898.4" y="1171.5" font-size="36.5" letter-spacing="0.8">CPL</text>
</svg>
</body></html>
